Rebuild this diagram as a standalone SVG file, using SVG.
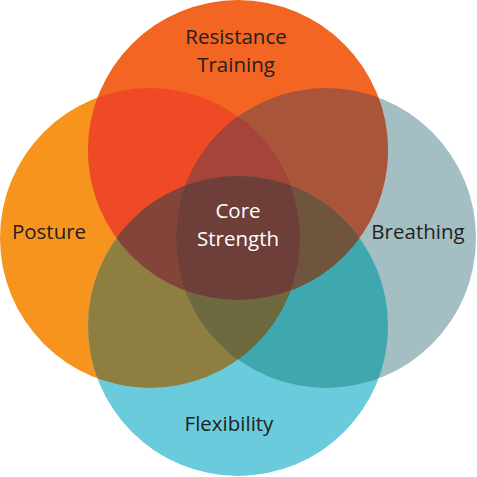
<svg xmlns="http://www.w3.org/2000/svg" width="477" height="477" viewBox="0 0 477 477">
<style>
.lbl{font-family:"Open Sans","Liberation Sans",sans-serif;font-size:20.5px;fill:#231F20;text-anchor:middle}
.core{fill:#FFFFFF}
</style>
<defs>
<clipPath id="cT"><circle cx="238" cy="150" r="150"/></clipPath>
<clipPath id="cL"><circle cx="150" cy="238" r="150"/></clipPath>
<clipPath id="cR"><circle cx="326" cy="238" r="150"/></clipPath>
<clipPath id="cB"><circle cx="238" cy="326" r="150"/></clipPath>
</defs>
<rect width="477" height="477" fill="#FFFFFF"/>
<g id="posture">
<circle cx="150" cy="238" r="150" fill="#F7941D"/>
</g>
<g id="breathing">
<circle cx="326" cy="238" r="150" fill="#A3BFC3"/>
</g>
<g id="flexibility">
<circle cx="238" cy="326" r="150" fill="#69CBDB"/>
</g>
<g id="resistance-training">
<circle cx="238" cy="150" r="150" fill="#F26522"/>
</g>
<g id="overlaps">
<g clip-path="url(#cT)"><circle cx="150" cy="238" r="150" fill="#EF4A26"/></g>
<g clip-path="url(#cT)"><circle cx="326" cy="238" r="150" fill="#A8553A"/></g>
<g clip-path="url(#cB)"><circle cx="150" cy="238" r="150" fill="#8E7E40"/></g>
<g clip-path="url(#cB)"><circle cx="326" cy="238" r="150" fill="#3FA7AE"/></g>
<g clip-path="url(#cT)"><circle cx="238" cy="326" r="150" fill="#6E3F38"/></g>
<g clip-path="url(#cL)"><circle cx="326" cy="238" r="150" fill="#6E3F38"/></g>
<g clip-path="url(#cT)"><g clip-path="url(#cL)"><circle cx="326" cy="238" r="150" fill="#A6443A"/></g></g>
<g clip-path="url(#cT)"><g clip-path="url(#cL)"><circle cx="238" cy="326" r="150" fill="#85443A"/></g></g>
<g clip-path="url(#cT)"><g clip-path="url(#cR)"><circle cx="238" cy="326" r="150" fill="#70553E"/></g></g>
<g clip-path="url(#cB)"><g clip-path="url(#cL)"><circle cx="326" cy="238" r="150" fill="#6C6A3E"/></g></g>
<g clip-path="url(#cT)"><g clip-path="url(#cB)"><g clip-path="url(#cL)"><circle cx="326" cy="238" r="150" fill="#6E3F38"/></g></g></g>
</g>
<g id="labels">
<text class="lbl" x="236" y="44">Resistance</text>
<text class="lbl" x="236" y="72">Training</text>
<text class="lbl" x="49" y="239">Posture</text>
<text class="lbl" x="418" y="239">Breathing</text>
<text class="lbl" x="229" y="431">Flexibility</text>
<text class="lbl core" x="238" y="218">Core</text>
<text class="lbl core" x="238" y="246">Strength</text>
</g>
</svg>
